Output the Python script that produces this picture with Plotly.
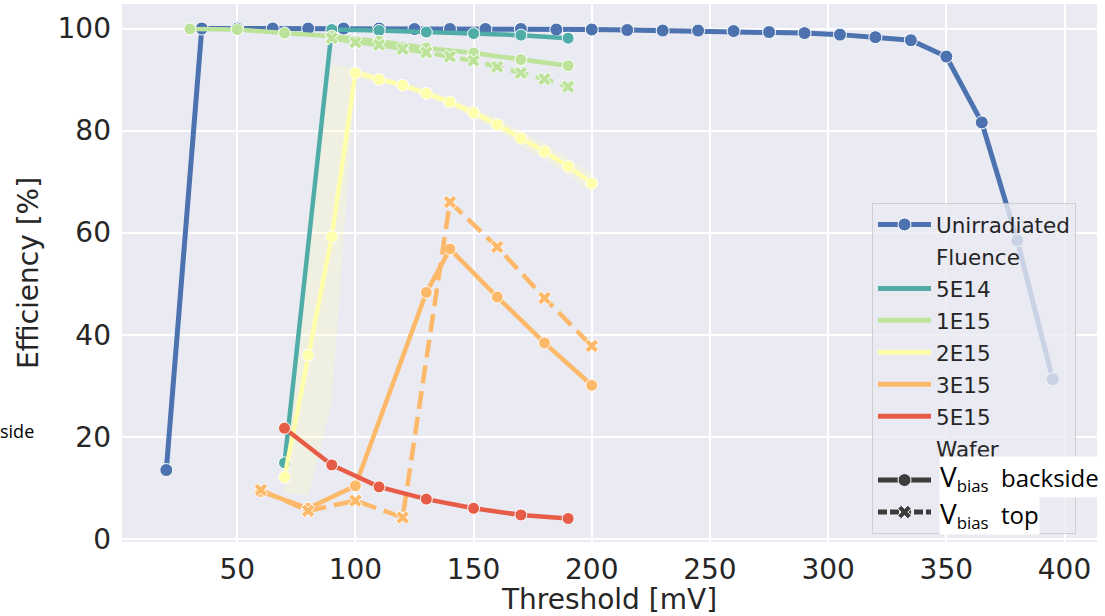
import plotly.graph_objects as go

# ---------------- data ----------------
unirr_x = [20, 35, 50, 65, 80, 95, 110, 125, 140, 155, 170, 185, 200, 215, 230, 245,
           260, 275, 290, 305, 320, 335, 350, 365, 380, 395]
unirr_y = [13.5, 100.0, 100.0, 100.0, 100.0, 100.0, 100.0, 99.9, 99.9, 99.9, 99.9, 99.8,
           99.8, 99.7, 99.6, 99.6, 99.5, 99.3, 99.1, 98.8, 98.3, 97.7, 94.5, 81.6, 58.5, 31.3]

f5e14_back_x = [70, 90, 110, 130, 150, 170, 190]
f5e14_back_y = [14.9, 99.8, 99.6, 99.3, 99.0, 98.7, 98.1]

f1e15_back_x = [30, 50, 70, 90, 110, 130, 150, 170, 190]
f1e15_back_y = [99.9, 99.8, 99.1, 98.5, 97.5, 96.2, 95.2, 93.9, 92.7]
f1e15_top_x = [90, 100, 110, 120, 130, 140, 150, 160, 170, 180, 190]
f1e15_top_y = [98.1, 97.3, 96.8, 96.0, 95.3, 94.5, 93.7, 92.5, 91.3, 90.1, 88.6]

f2e15_back_x = [70, 80, 90, 100, 110, 120, 130, 140, 150, 160, 170, 180, 190, 200]
f2e15_back_y = [12.1, 36.0, 59.2, 91.3, 90.0, 88.9, 87.3, 85.6, 83.5, 81.2, 78.5, 75.9, 73.0, 69.7]
f2e15_band_lo = [9.0, 8.5, 27.0, 90.3, 89.4, 88.3, 86.6, 84.8, 82.5, 80.0, 77.0, 74.3, 71.3, 67.8]
f2e15_band_hi = [14.5, 62.0, 93.0, 92.3, 90.6, 89.5, 88.0, 86.4, 84.5, 82.4, 80.0, 77.5, 74.7, 71.6]

f3e15_back_x = [60, 80, 100, 130, 140, 160, 180, 200]
f3e15_back_y = [9.3, 6.0, 10.4, 48.3, 56.8, 47.4, 38.4, 30.1]
f3e15_top_x = [60, 80, 100, 120, 140, 160, 180, 200]
f3e15_top_y = [9.6, 5.5, 7.5, 4.2, 66.0, 57.2, 47.2, 37.8]

f5e15_back_x = [70, 90, 110, 130, 150, 170, 190]
f5e15_back_y = [21.7, 14.5, 10.2, 7.8, 6.0, 4.7, 4.0]

fluence_names = ["5E14", "1E15", "2E15", "3E15", "5E15"]
fluence_colors = ["#50aca7", "#bde39b", "#fefeab", "#fdb96a", "#e65c47"]

x_ticks = [50, 100, 150, 200, 250, 300, 350, 400]
y_ticks = [0, 20, 40, 60, 80, 100]

# ---------------- styling ----------------
BLUE = "#4c72b0"
LW = 4.5
MS = 12
DASH = "18px,8px"

fig = go.Figure()

# Unirradiated
fig.add_trace(go.Scatter(
    x=unirr_x, y=unirr_y, mode="lines+markers", name="Unirradiated", legendgroup="g0",
    line=dict(color=BLUE, width=5),
    marker=dict(symbol="circle", size=13, color=BLUE, line=dict(color="white", width=1)),
))

# 2E15 band
fig.add_trace(go.Scatter(x=f2e15_back_x, y=f2e15_band_hi, mode="lines",
                         line=dict(width=0), showlegend=False, hoverinfo="skip"))
fig.add_trace(go.Scatter(x=f2e15_back_x, y=f2e15_band_lo, mode="lines",
                         line=dict(width=0), fill="tonexty",
                         fillcolor="rgba(255,255,190,0.30)", showlegend=False, hoverinfo="skip"))


def add_series(xs, ys, color, top=False):
    fig.add_trace(go.Scatter(
        x=xs, y=ys, mode="lines+markers", showlegend=False,
        line=dict(color=color, width=LW, dash=DASH if top else "solid"),
        marker=dict(symbol="x" if top else "circle", size=MS,
                    color=color, line=dict(color="white", width=1)),
    ))


add_series(f5e14_back_x, f5e14_back_y, fluence_colors[0])
add_series(f1e15_back_x, f1e15_back_y, fluence_colors[1])
add_series(f1e15_top_x, f1e15_top_y, fluence_colors[1], top=True)
add_series(f2e15_back_x, f2e15_back_y, fluence_colors[2])
add_series(f3e15_back_x, f3e15_back_y, fluence_colors[3])
add_series(f3e15_top_x, f3e15_top_y, fluence_colors[3], top=True)
add_series(f5e15_back_x, f5e15_back_y, fluence_colors[4])

# legend-only entries
INVIS = dict(color="rgba(0,0,0,0)", size=1)
fig.add_trace(go.Scatter(x=[None], y=[None], mode="markers", name="Fluence",
                         legendgroup="g1", marker=INVIS))
for i, (nm, c) in enumerate(zip(fluence_names, fluence_colors)):
    fig.add_trace(go.Scatter(x=[None], y=[None], mode="lines", name=nm, legendgroup=f"f{i}",
                             line=dict(color=c, width=5)))
fig.add_trace(go.Scatter(x=[None], y=[None], mode="markers", name="Wafer",
                         legendgroup="g2", marker=INVIS))
fig.add_trace(go.Scatter(x=[None], y=[None], mode="lines+markers", name=" ", legendgroup="g3",
                         line=dict(color="#3d3d3d", width=5),
                         marker=dict(symbol="circle", size=13, color="#3d3d3d",
                                     line=dict(color="white", width=1))))
fig.add_trace(go.Scatter(x=[None], y=[None], mode="lines+markers", name="  ", legendgroup="g4",
                         line=dict(color="#3d3d3d", width=5, dash="9px,3px"),
                         marker=dict(symbol="x", size=12, color="#3d3d3d",
                                     line=dict(color="white", width=1))))

L, R, T, B = 122, 8, 4, 74
W, H = 1105, 616
pw, ph = W - L - R, H - T - B


def px_x(p):
    return (p - L) / pw


def px_y(p):
    return (H - B - p) / ph


fig.update_layout(
    width=W, height=H,
    margin=dict(l=L, r=R, t=T, b=B, pad=0),
    paper_bgcolor="white", plot_bgcolor="#eaeaf2",
    font=dict(family="DejaVu Sans", color="#262626", size=20),
    showlegend=True,
    legend=dict(
        x=px_x(872), y=px_y(203), xanchor="left", yanchor="top",
        bgcolor="rgba(234,234,242,0.8)", bordercolor="rgba(200,200,200,0.8)", borderwidth=1,
        font=dict(family="DejaVu Sans", size=21.5, color="#262626"),
        itemwidth=53, tracegroupgap=1, traceorder="grouped",
    ),
    xaxis=dict(
        range=[1.25, 413.75], tickvals=x_ticks, ticktext=[str(v) for v in x_ticks],
        showgrid=True, gridcolor="white", gridwidth=1.5, zeroline=False,
        showline=False, ticks="", ticklabelstandoff=8,
        tickfont=dict(size=28, color="#262626"),
        title=dict(text="Threshold [mV]", font=dict(size=28, color="#262626"), standoff=6),
    ),
    yaxis=dict(
        range=[-0.6, 104.8], tickvals=y_ticks, ticktext=[str(v) for v in y_ticks],
        showgrid=True, gridcolor="white", gridwidth=1.5, zeroline=False,
        showline=False, ticks="", ticklabelstandoff=10,
        tickfont=dict(size=28, color="#262626"),
        title=dict(text="Efficiency [%]", font=dict(size=28, color="#262626"), standoff=10),
    ),
    annotations=[
        dict(xref="paper", yref="paper", x=px_x(939), y=px_y(477), xanchor="left", yanchor="middle",
             text='<span style="font-size:28px">V</span><sub>bias</sub>  backside', showarrow=False,
             font=dict(family="Open Sans", size=24, color="black"), bgcolor="white", borderpad=0),
        dict(xref="paper", yref="paper", x=px_x(939), y=px_y(514), xanchor="left", yanchor="middle",
             text='<span style="font-size:28px">V</span><sub>bias</sub>  top', showarrow=False,
             font=dict(family="Open Sans", size=24, color="black"), bgcolor="white", borderpad=0),
        dict(xref="paper", yref="paper", x=px_x(-2), y=px_y(431), xanchor="left", yanchor="middle",
             text="side", showarrow=False,
             font=dict(family="Open Sans", size=18, color="black")),
    ],
)

fig.write_html("out.html", post_script="document.body.style.margin='0';",
               config={"displayModeBar": False})
